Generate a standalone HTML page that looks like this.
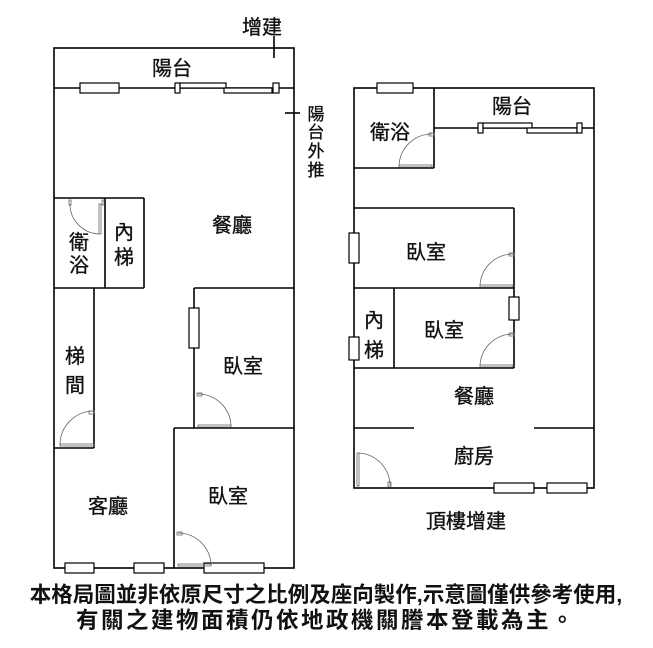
<!DOCTYPE html>
<html><head><meta charset="utf-8"><style>
html,body{margin:0;padding:0;background:#fff;}
svg{display:block;}
text{font-family:"Liberation Sans","Noto Sans CJK TC",sans-serif;fill:#111;}
</style></head><body>
<svg width="653" height="648" viewBox="0 0 653 648" xmlns="http://www.w3.org/2000/svg">
<g fill="none" stroke="#000" stroke-width="1.6">
<rect x="54" y="48" width="240" height="520"/>
<line x1="54" y1="88" x2="294" y2="88"/>
<line x1="54" y1="198" x2="144" y2="198"/>
<line x1="105" y1="198" x2="105" y2="288"/>
<line x1="144" y1="198" x2="144" y2="288"/>
<line x1="54" y1="288" x2="144" y2="288"/>
<line x1="94" y1="288" x2="94" y2="448"/>
<line x1="54" y1="448" x2="94" y2="448"/>
<line x1="194" y1="288" x2="294" y2="288"/>
<line x1="194" y1="288" x2="194" y2="428"/>
<line x1="174" y1="428" x2="294" y2="428"/>
<line x1="174" y1="428" x2="174" y2="568"/>
<line x1="274" y1="36" x2="274" y2="58"/>
<line x1="285" y1="113" x2="300" y2="113"/>
<rect x="354" y="88" width="240" height="400"/>
<line x1="434" y1="88" x2="434" y2="168"/>
<line x1="354" y1="168" x2="434" y2="168"/>
<line x1="434" y1="128" x2="594" y2="128"/>
<line x1="354" y1="208" x2="514" y2="208"/>
<line x1="514" y1="208" x2="514" y2="368"/>
<line x1="354" y1="288" x2="514" y2="288"/>
<line x1="394" y1="288" x2="394" y2="368"/>
<line x1="354" y1="368" x2="514" y2="368"/>
<line x1="354" y1="428" x2="414" y2="428"/>
<line x1="534" y1="428" x2="594" y2="428"/>
</g>
<g fill="#fff" stroke="#000" stroke-width="1.2">
<rect x="80" y="83" width="39" height="10"/>
<rect x="175" y="83" width="5" height="10"/>
<rect x="180" y="83" width="46" height="5"/>
<rect x="224" y="88" width="48" height="5"/>
<rect x="273" y="83" width="6" height="10"/>
<rect x="189" y="308" width="10" height="40"/>
<rect x="65" y="563" width="29" height="10"/>
<rect x="134" y="563" width="30" height="10"/>
<rect x="204" y="563" width="60" height="10"/>
<rect x="377" y="83" width="36" height="10"/>
<rect x="478" y="123" width="5" height="10"/>
<rect x="483" y="123" width="49" height="5"/>
<rect x="527" y="128" width="50" height="5"/>
<rect x="577" y="123" width="5" height="10"/>
<rect x="349" y="233" width="10" height="30"/>
<rect x="349" y="337" width="10" height="23"/>
<rect x="509" y="297" width="10" height="23"/>
<rect x="494" y="483" width="40" height="10"/>
<rect x="547" y="483" width="40" height="10"/>
</g>
<g fill="none" stroke="#666" stroke-width="0.8">
<path d="M60,445 A34,34 0 0 1 94,411"/><rect x="60" y="444" width="34" height="2"/><rect x="89" y="411" width="5" height="3"/>
<path d="M198,394 A33,33 0 0 1 231,426"/><rect x="198" y="425" width="33" height="2"/><rect x="197" y="393" width="5" height="3"/>
<path d="M178,533 A33,33 0 0 1 211,565"/><rect x="178" y="564" width="33" height="2"/><rect x="177" y="532" width="5" height="3"/>
<path d="M70,204 A30,30 0 0 0 100,234"/><rect x="99" y="204" width="2" height="30"/><rect x="69" y="200" width="2" height="5"/><rect x="102" y="200" width="2" height="5"/>
<path d="M432,134 A33,33 0 0 0 399,166"/><rect x="399" y="165" width="33" height="2"/><rect x="429" y="133" width="5" height="3"/>
<path d="M513,254 A33,33 0 0 0 480,286"/><rect x="480" y="285" width="33" height="2"/><rect x="509" y="253" width="5" height="3"/>
<path d="M513,334 A33,33 0 0 0 480,366"/><rect x="480" y="365" width="33" height="2"/><rect x="509" y="333" width="5" height="3"/>
<path d="M358,453 A33,33 0 0 1 390,486"/><rect x="357" y="453" width="2" height="33"/><rect x="388" y="482" width="3" height="5"/>
</g>
<g font-size="20" text-anchor="middle" stroke="#111" stroke-width="0.35">
<text x="262" y="34">增建</text>
<text x="172" y="75">陽台</text>
<text x="232" y="232">餐廳</text>
<text x="79" y="249">衛</text><text x="79" y="272">浴</text>
<text x="124" y="239">內</text><text x="124" y="264">梯</text>
<text x="75" y="363">梯</text><text x="75" y="392">間</text>
<text x="243" y="373">臥室</text>
<text x="228" y="503">臥室</text>
<text x="108" y="513">客廳</text>
<text x="390" y="139">衛浴</text>
<text x="512" y="113">陽台</text>
<text x="426" y="259">臥室</text>
<text x="444" y="337">臥室</text>
<text x="374" y="327">內</text><text x="374" y="357">梯</text>
<text x="474" y="403">餐廳</text>
<text x="474" y="463">廚房</text>
<text x="466" y="528">頂樓增建</text>
</g>
<g font-size="17" text-anchor="middle" stroke="#111" stroke-width="0.3">
<text x="316" y="120">陽</text><text x="316" y="138">台</text><text x="316" y="157">外</text><text x="316" y="176">推</text>
</g>
<g text-anchor="middle" font-weight="bold">
<text x="326" y="602" font-size="21.5">本格局圖並非依原尺寸之比例及座向製作,示意圖僅供參考使用,</text>
<text x="326" y="628" font-size="22.5" letter-spacing="2.5">有關之建物面積仍依地政機關謄本登載為主。</text>
</g>
</svg>
</body></html>
